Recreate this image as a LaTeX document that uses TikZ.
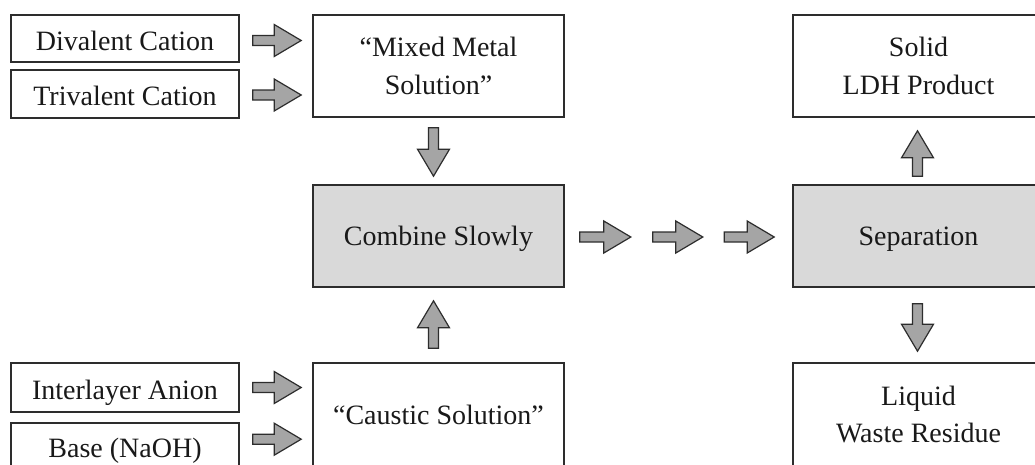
\documentclass[tikz,border=0pt]{standalone}
\usepackage{fontspec}
\setmainfont{Liberation Serif}
\usetikzlibrary{calc}
\definecolor{boxline}{RGB}{45,45,45}
\definecolor{boxfill}{RGB}{217,217,217}
\definecolor{arrowfill}{RGB}{165,165,165}
\definecolor{txt}{RGB}{25,25,25}
\tikzset{
  basebox/.style={draw=boxline, line width=1.6pt, fill=white, inner sep=0pt,
    align=center, text=txt, font=\fontsize{28}{37.5}\selectfont},
  lbox/.style={basebox, minimum width=228pt},
  lowtext/.style={text height=23pt, text depth=0pt},
  mbox/.style={basebox, minimum width=251pt},
  gbox/.style={mbox, fill=boxfill, text height=19pt, text depth=0pt},
  fat/.style={draw=boxline, line width=1.2pt, fill=arrowfill, line join=miter,
    to path={let \p1=(\tikztostart), \p2=(\tikztotarget),
      \n1={atan2(\y2-\y1,\x2-\x1)} in
      ($(\p1)+({\n1+90}:5pt)$)
      -- ($(\p2)+({\n1+180}:27pt)+({\n1+90}:5pt)$)
      -- ($(\p2)+({\n1+180}:27pt)+({\n1+90}:16pt)$)
      -- (\p2)
      -- ($(\p2)+({\n1+180}:27pt)+({\n1-90}:16pt)$)
      -- ($(\p2)+({\n1+180}:27pt)+({\n1-90}:5pt)$)
      -- ($(\p1)+({\n1-90}:5pt)$) -- cycle}}
}
\begin{document}
\begin{tikzpicture}[x=1pt,y=-1pt]
\useasboundingbox (0,0) rectangle (1035,464);
\clip (0,0) rectangle (1035,464);
\fill[white] (0,0) rectangle (1035,464);
% left column
\node[lbox, lowtext, minimum height=47pt] (div) at (125,38.5) {Divalent Cation};
\node[lbox, lowtext, minimum height=48pt] (tri) at (125,94) {Trivalent Cation};
\node[lbox, lowtext, minimum height=49pt] (inter) at (125,387.5) {Interlayer Anion};
\node[lbox, minimum height=56pt] (base) at (125,451) {Base (NaOH)};
% middle column
\node[mbox, minimum height=102pt] (mix) at (438.5,66) {“Mixed Metal\\Solution”};
\node[gbox, minimum height=102pt] (comb) at (438.5,236) {Combine Slowly};
\node[mbox, minimum height=104pt] (caus) at (438.5,415) {“Caustic Solution”};
% right column
\node[mbox, minimum height=102pt] (solid) at (918.5,66) {Solid\\LDH Product};
\node[gbox, minimum height=102pt] (sep) at (918.5,236) {Separation};
\node[mbox, minimum height=103pt] (liq) at (918.5,414.5) {Liquid\\Waste Residue};
% arrows into the solutions
\path[fat] ($(div.east)+(13,2)$) to ($(div.east -| mix.west)+(-11,2)$);
\path[fat] ($(tri.east)+(13,1)$) to ($(tri.east -| mix.west)+(-11,1)$);
\path[fat] ($(inter.east)+(13,0)$) to ($(inter.east -| caus.west)+(-11,0)$);
\path[fat] ($(base.north east)+(13,17)$) to ($(base.north east -| caus.west)+(-11,17)$);
% into combine
\path[fat] ($(mix.south)+(-5,10)$) to ($(mix.south |- comb.north)+(-5,-8)$);
\path[fat] ($(caus.north)+(-5,-14)$) to ($(caus.north |- comb.south)+(-5,13)$);
% combine to separation
\path[fat] ($(comb.east)+(15,1)$) to ($(comb.east)+(66,1)$);
\path[fat] ($(comb.east)+(88,1)$) to ($(comb.east)+(138,1)$);
\path[fat] ($(comb.east -| sep.west)+(-68,1)$) to ($(comb.east -| sep.west)+(-18,1)$);
% separation outputs
\path[fat] ($(sep.north)+(-1,-8)$) to ($(sep.north |- solid.south)+(-1,13)$);
\path[fat] ($(sep.south)+(-1,16)$) to ($(sep.south |- liq.north)+(-1,-11)$);
\end{tikzpicture}
\end{document}
